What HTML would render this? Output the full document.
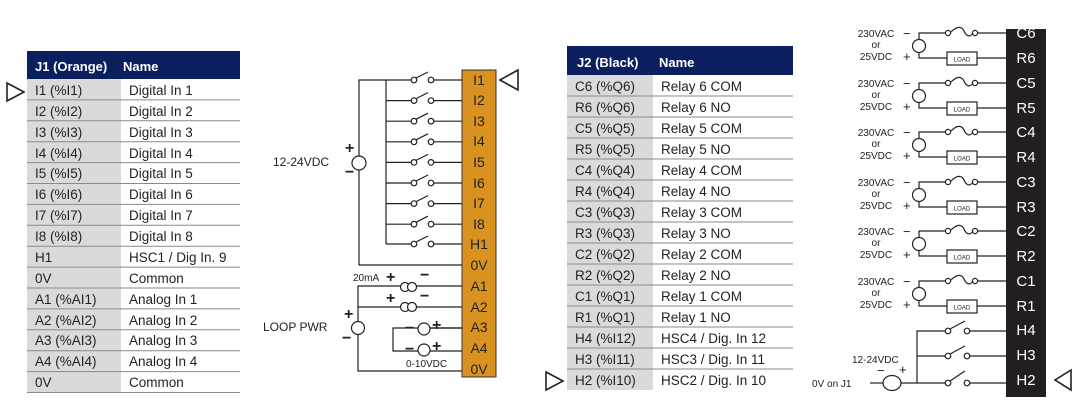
<!DOCTYPE html>
<html><head><meta charset="utf-8"><style>
html,body{margin:0;padding:0;background:#fff}
svg{display:block}
text{font-family:"Liberation Sans",sans-serif}
</style></head><body>
<svg width="1081" height="401" viewBox="0 0 1081 401" xmlns="http://www.w3.org/2000/svg">
<!-- J1 table -->
<rect x="27" y="51" width="213" height="28" fill="#0b1f5e"/>
<text x="35" y="71" font-size="13" font-weight="bold" fill="#fff">J1 (Orange)</text>
<text x="123" y="71" font-size="13" font-weight="bold" fill="#fff">Name</text>
<rect x="27" y="79" width="94" height="313" fill="#d9dadb"/>
<g stroke="#8a8a8a" stroke-width="1">
<line x1="27" y1="99.9" x2="240" y2="99.9"/><line x1="27" y1="120.8" x2="240" y2="120.8"/><line x1="27" y1="141.7" x2="240" y2="141.7"/><line x1="27" y1="162.6" x2="240" y2="162.6"/><line x1="27" y1="183.5" x2="240" y2="183.5"/><line x1="27" y1="204.4" x2="240" y2="204.4"/><line x1="27" y1="225.3" x2="240" y2="225.3"/><line x1="27" y1="246.2" x2="240" y2="246.2"/><line x1="27" y1="267.1" x2="240" y2="267.1"/><line x1="27" y1="288" x2="240" y2="288"/><line x1="27" y1="308.9" x2="240" y2="308.9"/><line x1="27" y1="329.8" x2="240" y2="329.8"/><line x1="27" y1="350.7" x2="240" y2="350.7"/><line x1="27" y1="371.6" x2="240" y2="371.6"/><line x1="27" y1="392.5" x2="240" y2="392.5"/>
</g>
<g font-size="13.5" fill="#222">
<text x="35" y="95">I1 (%I1)</text><text x="129" y="95">Digital In 1</text>
<text x="35" y="116">I2 (%I2)</text><text x="129" y="116">Digital In 2</text>
<text x="35" y="137">I3 (%I3)</text><text x="129" y="137">Digital In 3</text>
<text x="35" y="158">I4 (%I4)</text><text x="129" y="158">Digital In 4</text>
<text x="35" y="178">I5 (%I5)</text><text x="129" y="178">Digital In 5</text>
<text x="35" y="199">I6 (%I6)</text><text x="129" y="199">Digital In 6</text>
<text x="35" y="220">I7 (%I7)</text><text x="129" y="220">Digital In 7</text>
<text x="35" y="241">I8 (%I8)</text><text x="129" y="241">Digital  In 8</text>
<text x="35" y="262">H1</text><text x="129" y="262">HSC1 / Dig In. 9</text>
<text x="35" y="283">0V</text><text x="129" y="283">Common</text>
<text x="35" y="304">A1 (%AI1)</text><text x="129" y="304">Analog In 1</text>
<text x="35" y="325">A2 (%AI2)</text><text x="129" y="325">Analog In 2</text>
<text x="35" y="345">A3 (%AI3)</text><text x="129" y="345">Analog In 3</text>
<text x="35" y="366">A4 (%AI4)</text><text x="129" y="366">Analog In 4</text>
<text x="35" y="387">0V</text><text x="129" y="387">Common</text>
</g>
<polygon points="7,83 24,92 7,101" fill="none" stroke="#222" stroke-width="1.6"/>

<!-- orange strip -->
<rect x="462" y="70" width="34" height="307" fill="#d99220" stroke="#333" stroke-width="1"/>
<g font-size="14" fill="#222" text-anchor="middle">
<text x="479" y="85">I1</text><text x="479" y="105">I2</text><text x="479" y="126">I3</text><text x="479" y="146">I4</text><text x="479" y="167">I5</text><text x="479" y="188">I6</text><text x="479" y="208">I7</text><text x="479" y="229">I8</text><text x="479" y="249">H1</text><text x="479" y="270">0V</text><text x="479" y="291">A1</text><text x="479" y="312">A2</text><text x="479" y="332">A3</text><text x="479" y="353">A4</text><text x="479" y="374">0V</text>
</g>
<polygon points="518,70 500,80 518,90" fill="none" stroke="#222" stroke-width="1.6"/>
<g stroke="#222" stroke-width="1.2" fill="#fff">
<!-- buses -->
<line x1="386" y1="80" x2="386" y2="244"/>
<polyline points="386,80 359,80 359,265 462,265" fill="none"/>
<circle cx="359" cy="163" r="7"/>
<g id="sw">
<line x1="386" y1="80" x2="411" y2="80"/><circle cx="414" cy="80" r="2.8"/><line x1="416" y1="78" x2="428" y2="72"/><circle cx="431" cy="80" r="2.8"/><line x1="434" y1="80" x2="462" y2="80"/>
</g>
<use href="#sw" y="20.6"/><use href="#sw" y="41.2"/><use href="#sw" y="61.8"/><use href="#sw" y="82.4"/><use href="#sw" y="103"/><use href="#sw" y="123.6"/><use href="#sw" y="144.2"/><use href="#sw" y="164"/>
<!-- loop -->
<polyline points="462,286 358,286 358,371 462,371" fill="none"/>
<line x1="358" y1="307" x2="462" y2="307"/>
<circle cx="358" cy="328" r="6.5"/>
<circle cx="405" cy="287" r="4.5"/><circle cx="412" cy="287" r="4.5"/>
<circle cx="405" cy="307" r="4.5"/><circle cx="412" cy="307" r="4.5"/>
<polyline points="462,328 393,328 393,351 462,351" fill="none"/>
<line x1="418" y1="328" x2="462" y2="328"/>
<circle cx="424" cy="329" r="6"/>
<circle cx="424" cy="350" r="6"/>
</g>
<g font-size="12" fill="#222">
<text x="273" y="166">12-24VDC</text>
<text x="263" y="331">LOOP PWR</text>
<text x="353" y="281" font-size="10">20mA</text>
<text x="406" y="367" font-size="10">0-10VDC</text>
</g>
<g font-size="16" font-weight="bold" fill="#222">
<text x="345" y="153">+</text><text x="345" y="177">−</text>
<text x="386" y="282">+</text><text x="420" y="280">−</text>
<text x="386" y="303">+</text><text x="420" y="301">−</text>
<text x="344" y="319">+</text><text x="342" y="343">−</text>
<text x="405" y="333">−</text><text x="432" y="330">+</text>
<text x="405" y="354">−</text><text x="432" y="351">+</text>
</g>

<!-- J2 table -->
<rect x="567" y="46" width="226" height="29" fill="#0b1f5e"/>
<text x="577" y="67" font-size="13" font-weight="bold" fill="#fff">J2  (Black)</text>
<text x="659" y="67" font-size="13" font-weight="bold" fill="#fff">Name</text>
<rect x="567" y="75" width="86" height="315" fill="#d9dadb"/>
<g stroke="#8a8a8a" stroke-width="1">
<line x1="567" y1="96" x2="793" y2="96"/><line x1="567" y1="117" x2="793" y2="117"/><line x1="567" y1="138" x2="793" y2="138"/><line x1="567" y1="159" x2="793" y2="159"/><line x1="567" y1="180" x2="793" y2="180"/><line x1="567" y1="201" x2="793" y2="201"/><line x1="567" y1="222" x2="793" y2="222"/><line x1="567" y1="243" x2="793" y2="243"/><line x1="567" y1="264" x2="793" y2="264"/><line x1="567" y1="285" x2="793" y2="285"/><line x1="567" y1="306" x2="793" y2="306"/><line x1="567" y1="327" x2="793" y2="327"/><line x1="567" y1="348" x2="793" y2="348"/><line x1="567" y1="369" x2="793" y2="369"/>
</g>
<g font-size="13.5" fill="#222">
<text x="575" y="91">C6 (%Q6)</text><text x="661" y="91">Relay 6 COM</text>
<text x="575" y="112">R6 (%Q6)</text><text x="661" y="112">Relay 6 NO</text>
<text x="575" y="133">C5 (%Q5)</text><text x="661" y="133">Relay 5 COM</text>
<text x="575" y="154">R5 (%Q5)</text><text x="661" y="154">Relay 5 NO</text>
<text x="575" y="175">C4 (%Q4)</text><text x="661" y="175">Relay 4 COM</text>
<text x="575" y="196">R4 (%Q4)</text><text x="661" y="196">Relay 4 NO</text>
<text x="575" y="217">C3 (%Q3)</text><text x="661" y="217">Relay 3 COM</text>
<text x="575" y="238">R3 (%Q3)</text><text x="661" y="238">Relay 3 NO</text>
<text x="575" y="259">C2 (%Q2)</text><text x="661" y="259">Relay 2 COM</text>
<text x="575" y="280">R2 (%Q2)</text><text x="661" y="280">Relay 2 NO</text>
<text x="575" y="301">C1 (%Q1)</text><text x="661" y="301">Relay 1 COM</text>
<text x="575" y="322">R1 (%Q1)</text><text x="661" y="322">Relay 1 NO</text>
<text x="575" y="343">H4 (%I12)</text><text x="661" y="343">HSC4 / Dig. In 12</text>
<text x="575" y="364">H3 (%I11)</text><text x="661" y="364">HSC3 / Dig. In 11</text>
<text x="575" y="385">H2 (%I10)</text><text x="661" y="385">HSC2 / Dig. In 10</text>
</g>
<polygon points="546,372 563,381 546,390" fill="none" stroke="#222" stroke-width="1.6"/>

<!-- black strip -->
<rect x="1006" y="29" width="40" height="368" fill="#231f20"/>
<g font-size="15" fill="#fff" text-anchor="middle">
<text x="1026" y="38">C6</text><text x="1026" y="63">R6</text><text x="1026" y="88">C5</text><text x="1026" y="113">R5</text><text x="1026" y="137">C4</text><text x="1026" y="162">R4</text><text x="1026" y="187">C3</text><text x="1026" y="212">R3</text><text x="1026" y="236">C2</text><text x="1026" y="261">R2</text><text x="1026" y="286">C1</text><text x="1026" y="311">R1</text><text x="1026" y="335">H4</text><text x="1026" y="360">H3</text><text x="1026" y="385">H2</text>
</g>
<polygon points="1071,370 1055,380 1071,390" fill="none" stroke="#222" stroke-width="1.6"/>
<defs>
<g id="rel">
<polyline points="1006,33 978,33" fill="none"/>
<circle cx="975" cy="33" r="2.6"/>
<path d="M951,32 C958,25 962,27 964,31 C966,36 970,38 973,33" fill="none"/>
<circle cx="948" cy="33" r="2.6"/>
<polyline points="945,33 919,33 919,58 947,58" fill="none"/>
<circle cx="919" cy="46" r="6.5"/>
<rect x="947" y="52" width="30" height="13" fill="#fff"/>
<line x1="977" y1="58" x2="1006" y2="58"/>
<text x="962" y="61.5" font-size="6" stroke="none" fill="#222" text-anchor="middle">LOAD</text>
<text x="876" y="37" font-size="10" stroke="none" fill="#222" text-anchor="middle">230VAC</text>
<text x="876" y="48" font-size="10" stroke="none" fill="#222" text-anchor="middle">or</text>
<text x="876" y="60" font-size="10" stroke="none" fill="#222" text-anchor="middle">25VDC</text>
<text x="903" y="38" font-size="13" stroke="none" fill="#222">−</text>
<text x="903" y="61" font-size="13" stroke="none" fill="#222">+</text>
</g>
</defs>
<g stroke="#222" stroke-width="1.2" fill="#fff">
<use href="#rel"/><use href="#rel" y="50"/><use href="#rel" y="99"/><use href="#rel" y="149"/><use href="#rel" y="198"/><use href="#rel" y="248"/>
<!-- H switches -->
<polyline points="1006,331 970,331" fill="none"/><circle cx="967" cy="331" r="2.8"/><line x1="950" y1="329" x2="965" y2="321"/><circle cx="948" cy="331" r="2.8"/><polyline points="945,331 917,331 917,383" fill="none"/>
<polyline points="1006,356 970,356" fill="none"/><circle cx="967" cy="356" r="2.8"/><line x1="950" y1="354" x2="965" y2="346"/><circle cx="948" cy="356" r="2.8"/><line x1="945" y1="356" x2="917" y2="356"/>
<polyline points="1006,383 970,383" fill="none"/><circle cx="967" cy="383" r="2.8"/><line x1="950" y1="381" x2="965" y2="371"/><circle cx="948" cy="383" r="2.8"/><line x1="945" y1="383" x2="901" y2="383"/>
<line x1="870" y1="383" x2="883" y2="383"/>
<ellipse cx="892" cy="383" rx="9" ry="7.5"/>
</g>
<g fill="#222">
<text x="852" y="363" font-size="10">12-24VDC</text>
<text x="812" y="387" font-size="10">0V on J1</text>
<text x="877" y="375" font-size="13">−</text>
<text x="899" y="374" font-size="13">+</text>
</g>
</svg>
</body></html>
